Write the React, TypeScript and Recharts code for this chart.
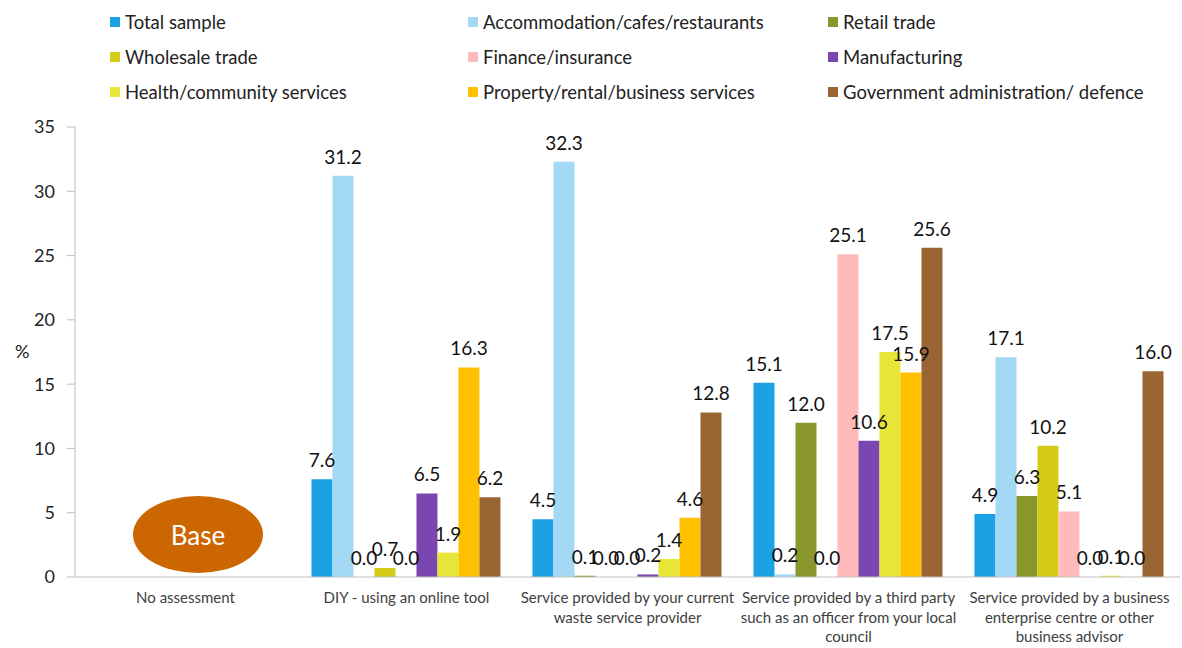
import React from "react";
import { BarChart, Bar, XAxis, YAxis, Legend, LabelList } from "recharts";

const categories = [
  "No assessment",
  "DIY - using an online tool",
  "Service provided by your current waste service provider",
  "Service provided by a third party such as an officer from your local council",
  "Service provided by a business enterprise centre or other business advisor",
];

const categoryLabelLines = [
  ["No assessment"],
  ["DIY - using an online tool"],
  ["Service provided by your current", "waste service provider"],
  ["Service provided by a third party", "such as an officer from your local", "council"],
  ["Service provided by a business", "enterprise centre or other", "business advisor"],
];

const seriesNames = [
  "Total sample",
  "Accommodation/cafes/restaurants",
  "Retail trade",
  "Wholesale trade",
  "Finance/insurance",
  "Manufacturing",
  "Health/community services",
  "Property/rental/business services",
  "Government administration/ defence",
];

const seriesColors = [
  "#1BA1E4",
  "#A3D9F4",
  "#8A972C",
  "#D4CC17",
  "#FFBBBB",
  "#7A46B0",
  "#E8E539",
  "#FFC000",
  "#996633",
];

const totalSample = [null, 7.6, 4.5, 15.1, 4.9];
const accommodation = [null, 31.2, 32.3, 0.2, 17.1];
const retail = [null, 0.0, 0.1, 12.0, 6.3];
const wholesale = [null, 0.7, 0.0, 0.0, 10.2];
const finance = [null, 0.0, 0.0, 25.1, 5.1];
const manufacturing = [null, 6.5, 0.2, 10.6, 0.0];
const health = [null, 1.9, 1.4, 17.5, 0.1];
const property = [null, 16.3, 4.6, 15.9, 0.0];
const government = [null, 6.2, 12.8, 25.6, 16.0];

const yTicks = [0, 5, 10, 15, 20, 25, 30, 35];
const separatorTicks = [0, 1, 2, 3, 4, 5];

const seriesValues = [
  totalSample,
  accommodation,
  retail,
  wholesale,
  finance,
  manufacturing,
  health,
  property,
  government,
];

const keys = seriesNames.map((_, i) => `s${i}`);

const data = categories.map((c, ci) => {
  const row: Record<string, any> = { category: c };
  keys.forEach((k, si) => {
    row[k] = seriesValues[si][ci];
  });
  return row;
});

const FONT = "Lato, 'Open Sans', sans-serif";

const CategoryTick = (props: any) => {
  const { x, y, payload, index } = props;
  const idx = typeof index === "number" ? index : categories.indexOf(payload.value);
  const lines = categoryLabelLines[idx] || [payload.value];
  return (
    <text x={x} y={y} textAnchor="middle" fill="#404040" style={{ fontSize: 15, fontFamily: FONT }}>
      {lines.map((l: string, i: number) => (
        <tspan key={i} x={x} dy={i === 0 ? 16 : 19.5}>
          {l}
        </tspan>
      ))}
    </text>
  );
};

const legendCols = [110, 468, 828];
const legendRows = [12, 47, 82];

const renderLegend = () => (
  <div style={{ position: "relative", width: 1182, height: 110, fontFamily: FONT }}>
    {seriesNames.map((name, i) => (
      <div
        key={name}
        style={{
          position: "absolute",
          left: legendCols[i % 3],
          top: legendRows[Math.floor(i / 3)],
          display: "flex",
          alignItems: "center",
          fontSize: 18.5,
          color: "#222",
          whiteSpace: "nowrap",
          lineHeight: "20px",
        }}
      >
        <span
          style={{
            display: "inline-block",
            width: 10,
            height: 10,
            background: seriesColors[i],
            marginRight: 5,
          }}
        />
        {name}
      </div>
    ))}
  </div>
);

const renderValueLabel = (props: any) => {
  const { x, y, width, value } = props;
  if (value === null || value === undefined) return null;
  const v = Array.isArray(value) ? value[1] : value;
  if (v === null || v === undefined) return null;
  return (
    <text
      x={Number(x) + Number(width) / 2}
      y={Number(y) - 12}
      textAnchor="middle"
      fill="#111"
      style={{ fontSize: 19, fontFamily: FONT }}
    >
      {Number(v).toFixed(1)}
    </text>
  );
};

// keep zero-valued bars in the layout so their "0.0" labels are drawn
const zeroKeep = (value: any) => (value === 0 ? 0.01 : 0);

export default function App() {
  return (
    <div style={{ position: "absolute", left: 0, top: 0, width: 1182, height: 648, background: "#fff" }}>
      <BarChart
        width={1182}
        height={648}
        data={data}
        margin={{ top: 127, right: 2, bottom: 0, left: 0 }}
        barCategoryGap="7%"
        barGap={0}
      >
        <Legend
          layout="horizontal"
          verticalAlign="middle"
          align="center"
          content={renderLegend}
          wrapperStyle={{ top: 0, left: 0, width: 1182, height: 110 }}
        />
        <XAxis
          xAxisId="sep"
          type="number"
          domain={[0, 5]}
          ticks={separatorTicks}
          tick={false}
          axisLine={false}
          tickLine={{ stroke: "#BFBFBF" }}
          tickSize={6}
          height={1}
        />
        <XAxis
          dataKey="category"
          interval={0}
          tick={<CategoryTick />}
          tickLine={false}
          tickSize={8}
          axisLine={{ stroke: "#BFBFBF" }}
          height={70}
        />
        <YAxis
          domain={[0, 35]}
          ticks={yTicks}
          width={75}
          tickSize={8}
          tickMargin={12}
          axisLine={{ stroke: "#BFBFBF" }}
          tickLine={{ stroke: "#BFBFBF" }}
          tick={{ fontSize: 18, fill: "#222", fontFamily: FONT }}
          label={{ value: "%", position: "insideLeft", dx: 10, style: { fontSize: 18, fill: "#222", fontFamily: FONT } }}
        />
        {keys.map((k, i) => (
          <Bar
            key={k}
            dataKey={k}
            name={seriesNames[i]}
            fill={seriesColors[i]}
            minPointSize={zeroKeep}
            isAnimationActive={false}
          >
            <LabelList dataKey={k} content={renderValueLabel} />
          </Bar>
        ))}
      </BarChart>
      <div
        style={{
          position: "absolute",
          left: 133,
          top: 496,
          width: 130,
          height: 77,
          borderRadius: "50%",
          background: "#CC6600",
          color: "#fff",
          fontFamily: FONT,
          fontSize: 26,
          display: "flex",
          alignItems: "center",
          justifyContent: "center",
        }}
      >
        Base
      </div>
    </div>
  );
}
